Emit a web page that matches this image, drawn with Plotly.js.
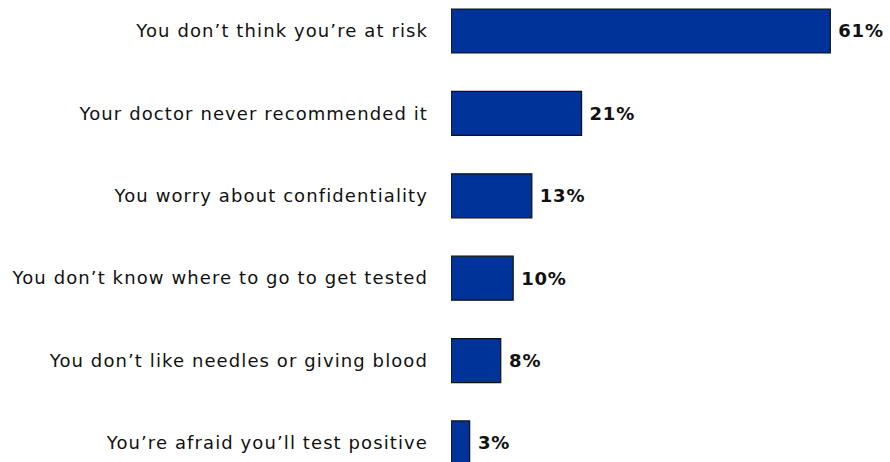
<!DOCTYPE html>
<html><head><meta charset="utf-8">
<script src="https://cdn.plot.ly/plotly-3.0.1.min.js"></script>
<style>
html,body{margin:0;padding:0;background:#fff}
#c{width:890px;height:462px}
#c .ytick text{letter-spacing:1.1px}
#c .textpoint text, #c text.bartext{letter-spacing:0.8px}
</style>
</head><body><div id="c"></div>
<script>
var categories = [
  "You don\u2019t think you\u2019re at risk",
  "Your doctor never recommended it",
  "You worry about confidentiality",
  "You don\u2019t know where to go to get tested",
  "You don\u2019t like needles or giving blood",
  "You\u2019re afraid you\u2019ll test positive"
];
var values = [61, 21, 13, 10, 8, 3];

Plotly.newPlot('c', [{
  type: 'bar', orientation: 'h',
  x: values, y: categories,
  width: 0.534,
  marker: {color: '#003399', line: {color: '#111111', width: 1.2}},
  texttemplate: ' <b>%{x}%</b>', textposition: 'outside',
  textfont: {family: 'DejaVu Sans', size: 18, color: '#111'},
  cliponaxis: false, hoverinfo: 'none'
}], {
  width: 890, height: 462,
  margin: {l: 451, r: 0, t: 0, b: 0},
  paper_bgcolor: '#fff', plot_bgcolor: '#fff',
  showlegend: false,
  font: {family: 'DejaVu Sans', size: 18, color: '#111'},
  xaxis: {range: [0, 70.6], visible: false, fixedrange: true},
  yaxis: {type: 'category', range: [5.231, -0.376], showgrid: false, zeroline: false,
          showline: false, ticks: '', ticklabelstandoff: 22,
          tickfont: {family: 'DejaVu Sans', size: 18, color: '#111'}}
}, {staticPlot: true});
</script></body></html>
